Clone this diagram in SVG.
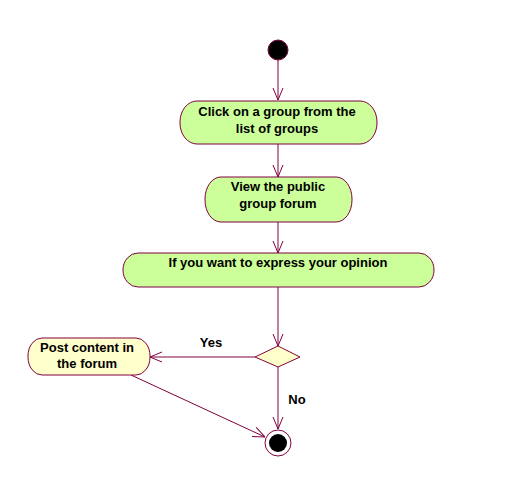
<svg xmlns="http://www.w3.org/2000/svg" width="511" height="485" viewBox="0 0 511 485">
<style>
.act{fill:#ccff99;stroke:#800040;stroke-width:1}
.act2{fill:#ffffcc;stroke:#800040;stroke-width:1}
.t{font-family:"Liberation Sans",Arial,sans-serif;font-weight:bold;font-size:13px;fill:#000;text-anchor:middle}
.c{stroke:#800040;stroke-width:1;fill:none}
</style>
<defs>
<marker id="ar" viewBox="0 0 12 12" refX="12" refY="6" markerWidth="12" markerHeight="12" markerUnits="userSpaceOnUse" orient="auto">
<path d="M0,1 L12,6 L0,11" fill="none" stroke="#800040" stroke-width="1"/>
</marker>
</defs>
<rect width="511" height="485" fill="#fff"/>
<g id="connectors">
<line class="c" x1="278" y1="60" x2="278" y2="100" marker-end="url(#ar)"/>
<line class="c" x1="278" y1="144" x2="278" y2="177" marker-end="url(#ar)"/>
<line class="c" x1="278" y1="222" x2="278" y2="253" marker-end="url(#ar)"/>
<line class="c" x1="278" y1="287" x2="278" y2="346" marker-end="url(#ar)"/>
<line class="c" x1="255" y1="357" x2="150" y2="357" marker-end="url(#ar)"/>
<line class="c" x1="278" y1="367" x2="278" y2="429" marker-end="url(#ar)"/>
<line class="c" x1="131" y1="375" x2="265" y2="437" marker-end="url(#ar)"/>
<text class="t" x="211" y="347">Yes</text>
<text class="t" x="297" y="404">No</text>
</g>
<g id="start"><circle cx="278" cy="50" r="10" fill="#000" stroke="#800040"/></g>
<g id="n1">
<rect class="act" x="180" y="101" width="197" height="43" rx="17" ry="21"/>
<text class="t" x="277" y="116">Click on a group from the</text>
<text class="t" x="277" y="133">list of groups</text>
</g>
<g id="n2">
<rect class="act" x="205" y="177" width="147" height="45" rx="16" ry="22"/>
<text class="t" x="278" y="191">View the public</text>
<text class="t" x="278" y="208">group forum</text>
</g>
<g id="n3">
<rect class="act" x="123" y="253" width="311" height="34" rx="15" ry="17"/>
<text class="t" x="278" y="267">If you want to express your opinion</text>
</g>
<g id="decision">
<polygon class="act2" points="278,346 300,357 278,367 255,357"/>
</g>
<g id="n4">
<rect class="act2" x="28" y="338" width="122" height="37" rx="14" ry="18"/>
<text class="t" x="87" y="352">Post content in</text>
<text class="t" x="87" y="368">the forum</text>
</g>
<g id="end">
<circle cx="278" cy="443" r="13" fill="#fff" stroke="#800040"/>
<circle cx="278" cy="443" r="9" fill="#000"/>
</g>
</svg>
